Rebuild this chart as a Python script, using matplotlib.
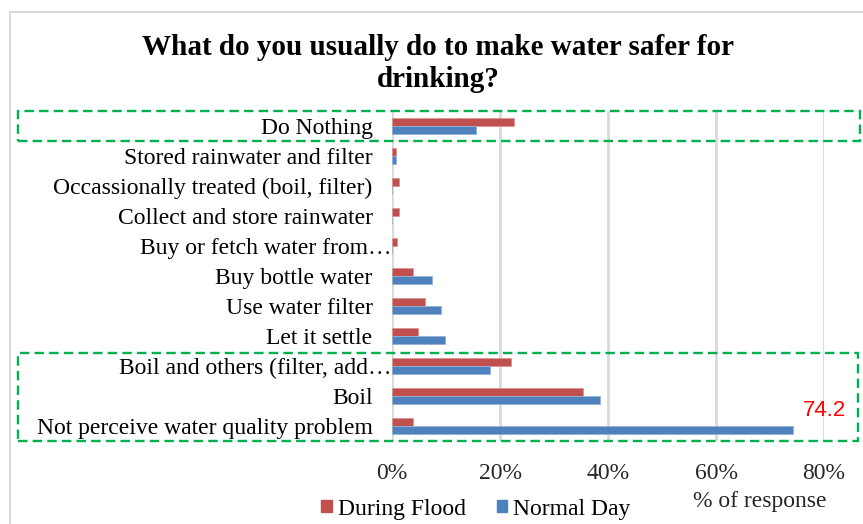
import matplotlib
matplotlib.use("Agg")
import matplotlib.pyplot as plt
from matplotlib.patches import Rectangle, Patch
from matplotlib.transforms import ScaledTranslation
import numpy as np

W, H = 863, 524

# data, top to bottom as in the chart
categories = [
    "Do Nothing",
    "Stored rainwater and filter",
    "Occassionally treated (boil, filter)",
    "Collect and store rainwater",
    "Buy or fetch water from\u2026",
    "Buy bottle water",
    "Use water filter",
    "Let it settle",
    "Boil and others (filter, add\u2026",
    "Boil",
    "Not perceive water quality problem",
]
during_flood = [22.5, 0.8, 1.3, 1.3, 0.9, 3.9, 6.1, 4.8, 22.1, 35.4, 3.9]
normal_day = [15.5, 0.8, 0.0, 0.0, 0.0, 7.4, 9.1, 9.9, 18.2, 38.6, 74.2]
x_ticks = [0, 20, 40, 60, 80]
x_ticklabels = ["0%", "20%", "40%", "60%", "80%"]

RED = "#C0504D"
BLUE = "#4F81BD"
GREEN = "#00B050"
SERIF = "Liberation Serif"
FS = 17


def fx(px):
    return px / W


def fy(py):
    return 1 - py / H


fig = plt.figure(figsize=(W / 100, H / 100), dpi=100)
fig.patch.set_facecolor("white")

# chart frame
fig.add_artist(Rectangle((fx(10), fy(540)), fx(870) - fx(10), fy(12) - fy(540),
                         transform=fig.transFigure, fill=False,
                         edgecolor="#D9D9D9", linewidth=1.5))

ax = fig.add_axes([fx(392), fy(441), fx(824) - fx(392), fy(111) - fy(441)])

n = len(categories)
pos = np.arange(n)[::-1]  # first category on top
h = 0.26
ax.barh(pos + h / 2, during_flood, height=h, color=RED, edgecolor="#D99694",
        linewidth=0.6, label="During Flood", zorder=3)
ax.barh(pos - h / 2, normal_day, height=h, color=BLUE, edgecolor="#95B3D7",
        linewidth=0.6, label="Normal Day", zorder=3)

ax.set_xlim(0, 80)
ax.set_ylim(-0.5, n - 0.5)
ax.set_xticks(x_ticks)
ax.set_xticklabels(x_ticklabels, fontsize=FS, family=SERIF, color="#262626")
ax.set_yticks(pos)
ax.set_yticklabels(categories, fontsize=FS, family=SERIF, color="#000000")
ax.tick_params(axis="both", length=0)
ax.tick_params(axis="y", pad=14)
ax.tick_params(axis="x", pad=16)
ax.grid(axis="x", color="#D9D9D9", linewidth=2.0, zorder=0)
ax.set_axisbelow(True)
for s in ax.spines.values():
    s.set_visible(False)

# truncated labels: the ellipsis runs past the normal label edge
for lab in ax.get_yticklabels():
    if lab.get_text().endswith("\u2026"):
        lab.set_transform(lab.get_transform() + ScaledTranslation(19 / 100, 0, fig.dpi_scale_trans))

# highlighted value
i_max = int(np.argmax(normal_day))
ax.annotate(f"{normal_day[i_max]:.1f}", xy=(normal_day[i_max], pos[i_max]),
            xytext=(10, 15), textcoords="offset pixels", color="#FF0000",
            fontsize=16, family="Liberation Sans", va="center", ha="left",
            annotation_clip=False)

# title
fig.text(fx(438), fy(55), "What do you usually do to make water safer for",
         fontsize=21, fontweight="bold", family=SERIF, ha="center", va="baseline")
fig.text(fx(438), fy(87), "drinking?",
         fontsize=21, fontweight="bold", family=SERIF, ha="center", va="baseline")

# axis title
fig.text(fx(760), fy(501), "% of response", fontsize=FS, family=SERIF,
         ha="center", va="center", color="#262626")

# legend
handles = [Patch(facecolor=RED, edgecolor=RED), Patch(facecolor=BLUE, edgecolor=BLUE)]
fig.legend(handles, ["During Flood", "Normal Day"], loc="center",
           bbox_to_anchor=(fx(476), fy(509)), ncol=2, frameon=False,
           prop={"family": SERIF, "size": FS}, handlelength=0.45,
           handleheight=0.45, handletextpad=0.25, columnspacing=1.3,
           borderpad=0)

# green dashed highlight boxes
for x0, y0, x1, y1 in [(18, 111, 860, 141), (18, 353, 858, 441)]:
    fig.add_artist(Rectangle((fx(x0), fy(y1)), fx(x1) - fx(x0), fy(y0) - fy(y1),
                             transform=fig.transFigure, fill=False,
                             edgecolor=GREEN, linewidth=1.7,
                             linestyle=(0, (4, 2.2)), zorder=10))

fig.savefig("out.png", dpi=100)
